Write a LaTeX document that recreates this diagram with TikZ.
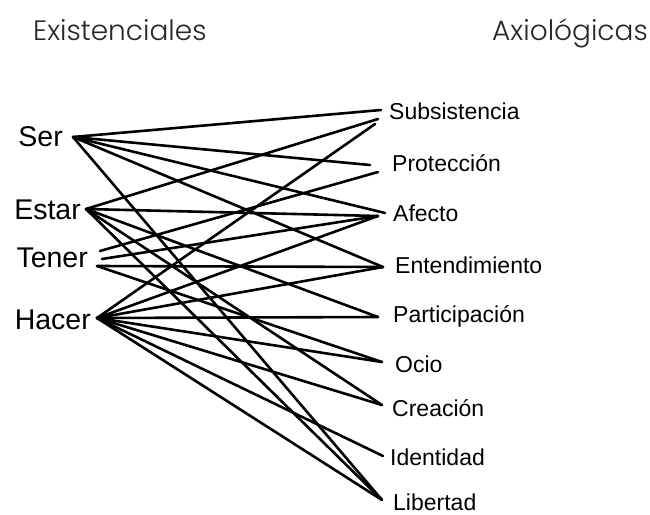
\documentclass[tikz,border=0pt]{standalone}
\usepackage{fontspec}
\setmainfont{Liberation Sans}
\IfFontExistsTF{Poppins Light}{\newfontfamily\titlefont{Poppins Light}}{\newfontfamily\titlefont{Poppins}}
\begin{document}
\begin{tikzpicture}[x=1pt,y=-1pt,
  title/.style={font=\titlefont\fontsize{28}{32}\selectfont, text=black!85, inner sep=0pt},
  left/.style={font=\fontsize{28.5}{30}\selectfont, inner sep=0pt, anchor=east},
  right/.style={font=\fontsize{23}{26}\selectfont, inner sep=0pt, anchor=west},
  link/.style={line width=2.6pt, black, line cap=round}]
\useasboundingbox (0,0) rectangle (650,514);
% titles
\node[title, anchor=base west] (tex) at (33,40) {Existenciales};
\node[title, anchor=base east] (tax) at (648,40) {Axiológicas};
% left labels
\node[left] (ser) at (63,137) {Ser};
\node[left] (estar) at (81,210) {Estar};
\node[left] (tener) at (88,258) {Tener};
\node[left] (hacer) at (91,320) {Hacer};
% right labels
\node[right] (sub) at (389,111) {Subsistencia};
\node[right] (pro) at (392,163) {Protección};
\node[right] (afe) at (393,213) {Afecto};
\node[right] (ent) at (395,265) {Entendimiento};
\node[right] (par) at (393,316) {Participación};
\node[right] (oci) at (395,364) {Ocio};
\node[right] (cre) at (392,408) {Creación};
\node[right] (ide) at (390,457) {Identidad};
\node[right] (lib) at (393,502) {Libertad};
% ports
\coordinate (pSer) at (73,137);
\coordinate (pEstar) at (86,209);
\coordinate (pTenA) at (100,251);
\coordinate (pTenB) at (102,259);
\coordinate (pTenC) at (97,266);
\coordinate (pHacer) at (97,318);
\coordinate (qSubA) at (381,110);
\coordinate (qSubB) at (378,119);
\coordinate (qSubC) at (375,124);
\coordinate (qProA) at (370,165);
\coordinate (qProB) at (378,172);
\coordinate (qAfeA) at (385,213);
\coordinate (qAfe) at (378,216);
\coordinate (qEnt) at (383,267);
\coordinate (qPar) at (378,317);
\coordinate (qOci) at (382,362);
\coordinate (qCre) at (382,405);
\coordinate (qIde) at (383,456);
\coordinate (qLib) at (382,500);
% Ser
\draw[link] (pSer) -- (qSubA);
\draw[link] (pSer) -- (qProA);
\draw[link] (pSer) -- (qAfeA);
\draw[link] (pSer) -- (qEnt);
\draw[link] (pSer) -- (qLib);
% Estar
\draw[link] (pEstar) -- (qSubB);
\draw[link] (pEstar) -- (qAfe);
\draw[link] (pEstar) -- (qPar);
\draw[link] (pEstar) -- (qCre);
\draw[link] (pEstar) -- (qLib);
% Tener
\draw[link] (pTenA) -- (qProB);
\draw[link] (pTenB) -- (qAfe);
\draw[link] (pTenC) -- (qEnt);
\draw[link] (pTenC) -- (qOci);
% Hacer
\draw[link] (pHacer) -- (qSubC);
\draw[link] (pHacer) -- (qAfe);
\draw[link] (pHacer) -- (qEnt);
\draw[link] (pHacer) -- (qPar);
\draw[link] (pHacer) -- (qOci);
\draw[link] (pHacer) -- (qCre);
\draw[link] (pHacer) -- (qIde);
\draw[link] (pHacer) -- (qLib);
\end{tikzpicture}
\end{document}
